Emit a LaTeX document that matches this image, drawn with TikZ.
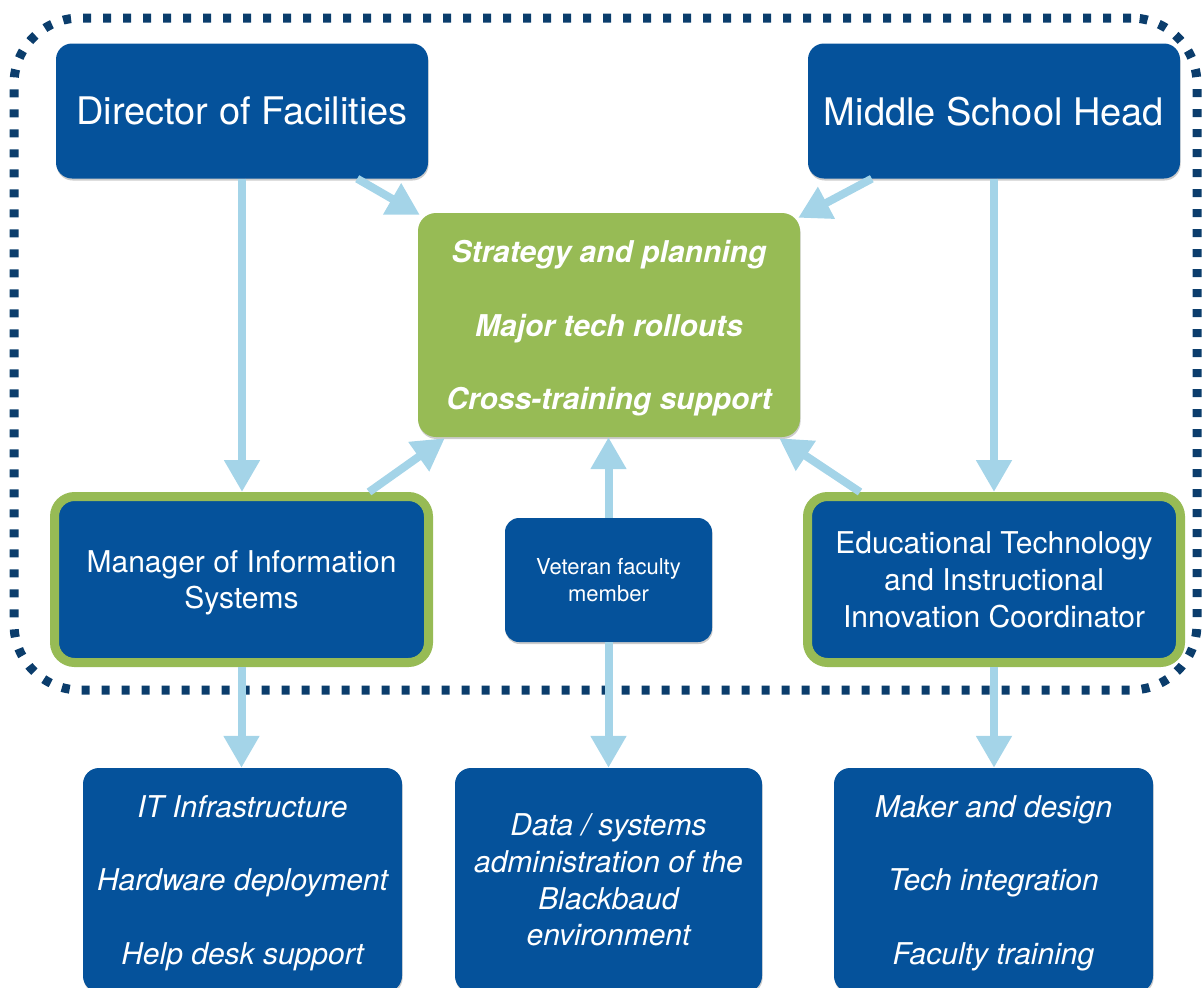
\documentclass[tikz,border=0pt]{standalone}
\usepackage{fontspec}
\setmainfont{TeX Gyre Heros}
\usetikzlibrary{arrows.meta,shadows}
\definecolor{boxblue}{HTML}{05529B}
\definecolor{framenavy}{HTML}{0B3D6C}
\definecolor{leafgreen}{HTML}{97BB55}
\definecolor{flowblue}{HTML}{A4D4E8}
\begin{document}
\begin{tikzpicture}[x=1pt,y=-1pt,
  every node/.style={text=white, align=center, inner sep=0pt, text depth=0pt},
  softshadow/.style={drop shadow={shadow xshift=0.6pt, shadow yshift=-2pt, opacity=0.2, fill=black}},
  bluebox/.style={fill=boxblue, rounded corners=16pt, softshadow},
  rimbox/.style={fill=boxblue, draw=leafgreen, line width=9pt, rounded corners=20pt, softshadow},
  corebox/.style={fill=leafgreen, rounded corners=18pt, softshadow},
  headfont/.style={font=\fontsize{38}{44}\selectfont},
  rolefont/.style={font=\fontsize{30}{36.7}\selectfont},
  vetfont/.style={font=\fontsize{22}{27.5}\selectfont},
  dutyfont/.style={font=\itshape\fontsize{30}{36.7}\selectfont},
  corefont/.style={font=\bfseries\itshape\fontsize{30}{36.7}\selectfont},
  flow/.style={draw=flowblue, line width=8pt, -{Triangle[width=34pt,length=32pt]}},
  groupframe/.style={draw=framenavy, line width=9pt, dash pattern=on 8pt off 12pt, rounded corners=66pt}
]
\useasboundingbox (0,0) rectangle (1203,988);

% dashed frame around the leadership group
\node[groupframe, minimum width=1183pt, minimum height=672pt] (group) at (605.5,354) {};

% leadership
\node[bluebox, headfont, minimum width=372pt, minimum height=135pt] (dir) at (242,111) {Director of Facilities};
\node[bluebox, headfont, minimum width=372pt, minimum height=135pt] (msh) at (994,111) {Middle School Head};

% shared responsibilities
\node[corebox, corefont, minimum width=382pt, minimum height=224pt] (core) at (609,325)
  {Strategy and planning\\[36.7pt]Major tech rollouts\\[36.7pt]Cross-training support};

% technology staff
\node[rimbox, rolefont, minimum width=374pt, minimum height=166pt] (mis) at (241.5,579.5)
  {Manager of Information\\Systems};
\node[rimbox, rolefont, minimum width=373pt, minimum height=166pt] (edt) at (994,579.5)
  {Educational Technology\\and Instructional\\Innovation Coordinator};
\node[bluebox, vetfont, minimum width=207pt, minimum height=124pt, rounded corners=14pt] (vet) at (608.5,580)
  {Veteran faculty\\member};

% areas of work
\node[bluebox, dutyfont, minimum width=319pt, minimum height=224pt] (itb) at (242.5,880)
  {IT Infrastructure\\[36.7pt]Hardware deployment\\[36.7pt]Help desk support};
\node[bluebox, dutyfont, minimum width=307pt, minimum height=224pt] (dat) at (608.5,880)
  {Data / systems\\administration of the\\Blackbaud\\environment};
\node[bluebox, dutyfont, minimum width=319pt, minimum height=224pt] (mak) at (993.5,880)
  {Maker and design\\[36.7pt]Tech integration\\[36.7pt]Faculty training};

% reporting lines
\draw[flow] (dir.south) -- (dir.south |- mis.north);
\draw[flow] (msh.south) -- (msh.south |- edt.north);
\draw[flow] ([xshift=-71pt]dir.south east) -- ([xshift=2pt,yshift=-2pt]core.north west);
\draw[flow] ([xshift=64pt]msh.south west) -- ([xshift=-2pt,yshift=-5pt]core.north east);
\draw[flow] ([xshift=-64pt]mis.north east) -- ([xshift=27pt,yshift=-1pt]core.south west);
\draw[flow] (vet.north) -- (vet.north |- core.south);
\draw[flow] ([xshift=57pt]edt.north west) -- ([xshift=-21pt,yshift=-1pt]core.south east);
\draw[flow] (mis.south) -- (mis.south |- itb.north);
\draw[flow] (vet.south) -- (vet.south |- dat.north);
\draw[flow] (edt.south) -- (edt.south |- mak.north);
\end{tikzpicture}
\end{document}
